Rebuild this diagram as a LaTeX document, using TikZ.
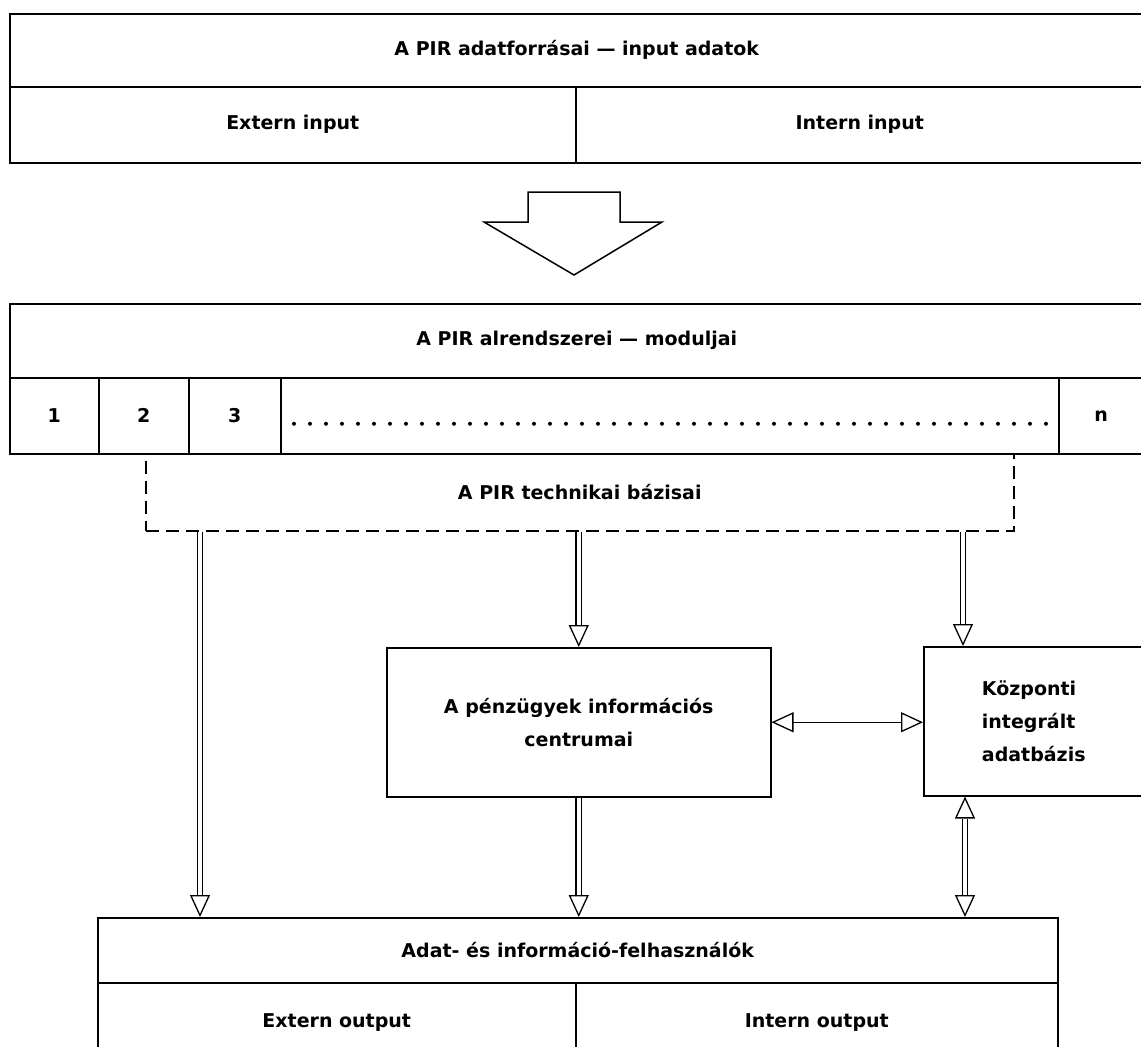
\documentclass[tikz,border=0pt]{standalone}
\usepackage{fontspec}
\setmainfont{DejaVu Sans}
\usetikzlibrary{arrows.meta,decorations.markings,positioning}

\tikzset{
  box/.style={draw, line width=1.5pt, inner sep=0pt, anchor=north west,
    font=\fontsize{19}{33}\selectfont\bfseries},
  dbl/.style={double, double distance=4pt, line width=1.3pt, shorten >=22pt,
    postaction={decorate, decoration={markings,
      mark=at position 1 with {\arrow[line width=1.3pt]{Triangle[open,length=22pt,width=20pt]}}}}},
  dbltwo/.style={dbl, shorten <=22pt,
    postaction={decorate, decoration={markings,
      mark=at position 0 with {\arrowreversed[line width=1.3pt]{Triangle[open,length=22pt,width=20pt]}}}}},
  biarrow/.style={line width=1.3pt, {Triangle[open,length=22pt,width=20pt]}-{Triangle[open,length=22pt,width=20pt]}},
  dotline/.style={line width=4pt, line cap=round, dash pattern=on 0pt off 16pt},
}

\begin{document}
\begin{tikzpicture}[x=1pt,y=-1pt]
\useasboundingbox (0,0) rectangle (1141,1047);
\clip (0,0) rectangle (1141,1047);

% input
\node[box, minimum width=1134pt, minimum height=73pt] (forras) at (9,13) {A PIR adatforrásai — input adatok};
\node[box, minimum width=566pt, minimum height=76pt] (extin) at (9,86) {Extern input};
\node[box, minimum width=568pt, minimum height=76pt] (intin) at (575,86) {Intern input};

\draw[line width=1.5pt] (528,192) -- (620,192) -- (620,222) -- (662,222) -- (574,275)
  -- (484,222) -- (528,222) -- cycle;

% modulok
\node[box, minimum width=1134pt, minimum height=74pt] (modul) at (9,303) {A PIR alrendszerei — moduljai};
\node[box, minimum width=89pt, minimum height=76pt] (c1) at (9,377) {1};
\node[box, minimum width=90pt, minimum height=76pt] (c2) at (98,377) {2};
\node[box, minimum width=92pt, minimum height=76pt] (c3) at (188,377) {3};
\node[box, minimum width=778pt, minimum height=76pt] (cdots) at (280,377) {};
\node[box, minimum width=85pt, minimum height=76pt] (cn) at (1058,377) {n};
\draw[dotline] ([xshift=14pt,yshift=-8pt]cdots.west) -- ([xshift=-12pt,yshift=-8pt]cdots.east);

\node[box, dashed, dash pattern=on 13pt off 7pt, minimum width=868pt, minimum height=77pt] (tech) at (145,453) {A PIR technikai bázisai};

% centrumok
\node[box, align=center, minimum width=384pt, minimum height=149pt] (centrum) at (386,647) {A pénzügyek információs\\centrumai};
\node[box, align=left, minimum width=220pt, minimum height=149pt] (adatbazis) at (923,646) {Központi\\integrált\\adatbázis};

% felhasznalok
\node[box, minimum width=960pt, minimum height=65pt] (users) at (97,917) {Adat- és információ-felhasználók};
\node[box, minimum width=478pt, minimum height=80pt] (extout) at (97,982) {Extern output};
\node[box, minimum width=482pt, minimum height=80pt] (intout) at (575,982) {Intern output};

% nyilak
\coordinate (a1) at ([xshift=55pt]tech.south west);
\coordinate (a3) at ([xshift=40pt]adatbazis.north west);
\coordinate (a6) at ([xshift=42pt]adatbazis.south west);
\draw[dbl] (a1) -- (a1 |- users.north);
\draw[dbl] (tech.south -| centrum.north) -- (centrum.north);
\draw[dbl] (a3 |- tech.south) -- (a3);
\draw[biarrow] (centrum.east) -- (centrum.east -| adatbazis.west);
\draw[dbl] (centrum.south) -- (centrum.south |- users.north);
\draw[dbltwo] (a6) -- (a6 |- users.north);
\end{tikzpicture}
\end{document}
